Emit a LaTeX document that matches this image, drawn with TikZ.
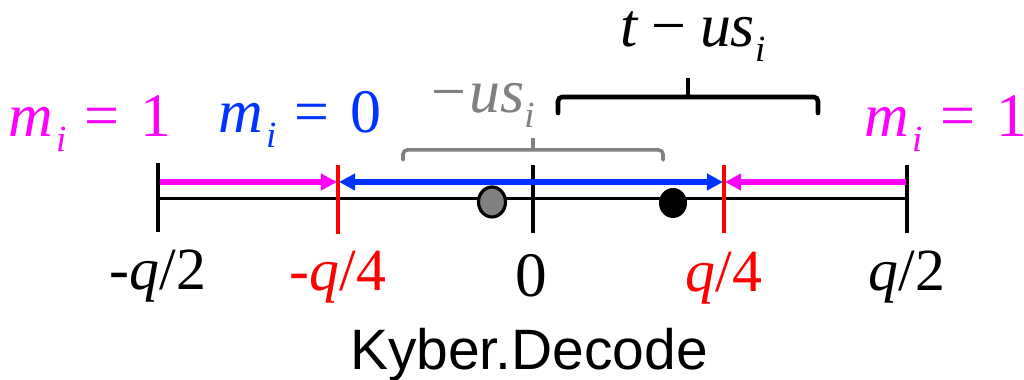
\documentclass[tikz,border=0pt]{standalone}
\usepackage{fontspec}
\setmainfont{Liberation Serif}
\newfontfamily\tnr{Liberation Serif}
\newfontfamily\kyberfont{Liberation Sans}
\usetikzlibrary{arrows.meta}
\definecolor{magc}{RGB}{255,0,255}
\definecolor{bluc}{RGB}{0,51,255}
\definecolor{redc}{RGB}{255,0,0}
\definecolor{grayc}{RGB}{128,128,128}
\newcommand{\subi}{\raisebox{-0.24em}{\fontsize{10.5}{10.5}\selectfont\itshape i}}
\newcommand{\mi}{\textit{m}\hspace{0.04em}\subi\hspace{0.3em}=\hspace{0.33em}}
\begin{document}
\begin{tikzpicture}[x=0.01cm,y=-0.01cm,
  lab/.style={font=\tnr\fontsize{17.6}{20}\selectfont, inner sep=0pt, anchor=base},
  qlab/.style={font=\tnr\fontsize{17}{20}\selectfont, inner sep=0pt, anchor=base},
  axisline/.style={line width=0.85pt, black},
  tick/.style={line width=1pt},
  rng/.style={line width=1.6pt, -{Triangle[length=4.6pt,width=4.6pt]}},
  rng2/.style={line width=1.6pt, {Triangle[length=4.6pt,width=4.6pt]}-{Triangle[length=4.6pt,width=4.6pt]}},
  brk/.style={rounded corners=1.2pt, line cap=round}
]
\useasboundingbox (0,0) rectangle (1024,380);
% tick ends
\coordinate (a1) at (158,163); \coordinate (a2) at (158,232);
\coordinate (b1) at (338,165); \coordinate (b2) at (338,234);
\coordinate (c1) at (533,165); \coordinate (c2) at (533,233);
\coordinate (d1) at (724,165); \coordinate (d2) at (724,233);
\coordinate (e1) at (907,165); \coordinate (e2) at (907,233);
\coordinate (axL) at (158,199); \coordinate (axR) at (907,199);
% axis
\draw[axisline] (axL) -- (axR);
\draw[tick,black] (a1) -- (a2);
\draw[tick,black] (c1) -- (c2);
\draw[tick,black] (e1) -- (e2);
\draw[tick,redc] (b1) -- (b2);
\draw[tick,redc] (d1) -- (d2);
% range arrows
\coordinate (mL0) at (160,182); \coordinate (mL1) at (337,182);
\coordinate (bL) at (339,182); \coordinate (bR) at (723,182);
\coordinate (mR0) at (906,182); \coordinate (mR1) at (725,182);
\draw[rng,magc] (mL0) -- (mL1);
\draw[rng2,bluc] (bL) -- (bR);
\draw[rng,magc] (mR0) -- (mR1);
% points
\fill[grayc,draw=black,line width=0.9pt] (492,202) ellipse (13.5 and 15);
\fill[black] (673,203) ellipse (14 and 15);
% gray bracket
\coordinate (g1) at (403,160); \coordinate (g2) at (403,150);
\coordinate (g3) at (663,150); \coordinate (g4) at (663,160);
\coordinate (gm) at (533,150); \coordinate (gt) at (533,138);
\draw[brk,grayc,line width=1pt] (g1) -- (g2) -- (g3) -- (g4);
\draw[grayc,line width=1pt] (gm) -- (gt);
% black brace
\coordinate (k1) at (558,113); \coordinate (k2) at (558,97);
\coordinate (k3) at (818,97); \coordinate (k4) at (818,113);
\coordinate (km) at (688,97); \coordinate (kt) at (688,78);
\draw[brk,black,line width=1.3pt] (k1) -- (k2) -- (k3) -- (k4);
\draw[black,line width=1.3pt] (km) -- (kt);
% labels
\node[lab,text=magc] (m1L) at (90,137) {\mi 1};
\node[lab,text=bluc] (m0) at (300,133) {\mi 0};
\node[lab,text=magc] (m1R) at (946,137) {\mi 1};
\node[lab,text=grayc] (us) at (483,113) {−\hspace{0.05em}\textit{us}\subi};
\node[lab,text=black] (tus) at (693,47) {\textit{t}\hspace{0.2em}−\hspace{0.22em}\textit{us}\subi};
\node[qlab,text=black] (lq2) at (158,290) {-\textit{q}/2};
\node[qlab,text=redc] (lq4) at (338,291) {-\textit{q}/4};
\node[qlab,text=black,font=\tnr\fontsize{18}{20}\selectfont] (l0) at (531,297) {0};
\node[qlab,text=redc] (rq4) at (724,292) {\textit{q}/4};
\node[qlab,text=black] (rq2) at (907,291) {\textit{q}/2};
\node[inner sep=0pt,anchor=base,font=\kyberfont\fontsize{16.2}{19}\selectfont] (kd) at (529,370) {Kyber.Decode};
\end{tikzpicture}
\end{document}
